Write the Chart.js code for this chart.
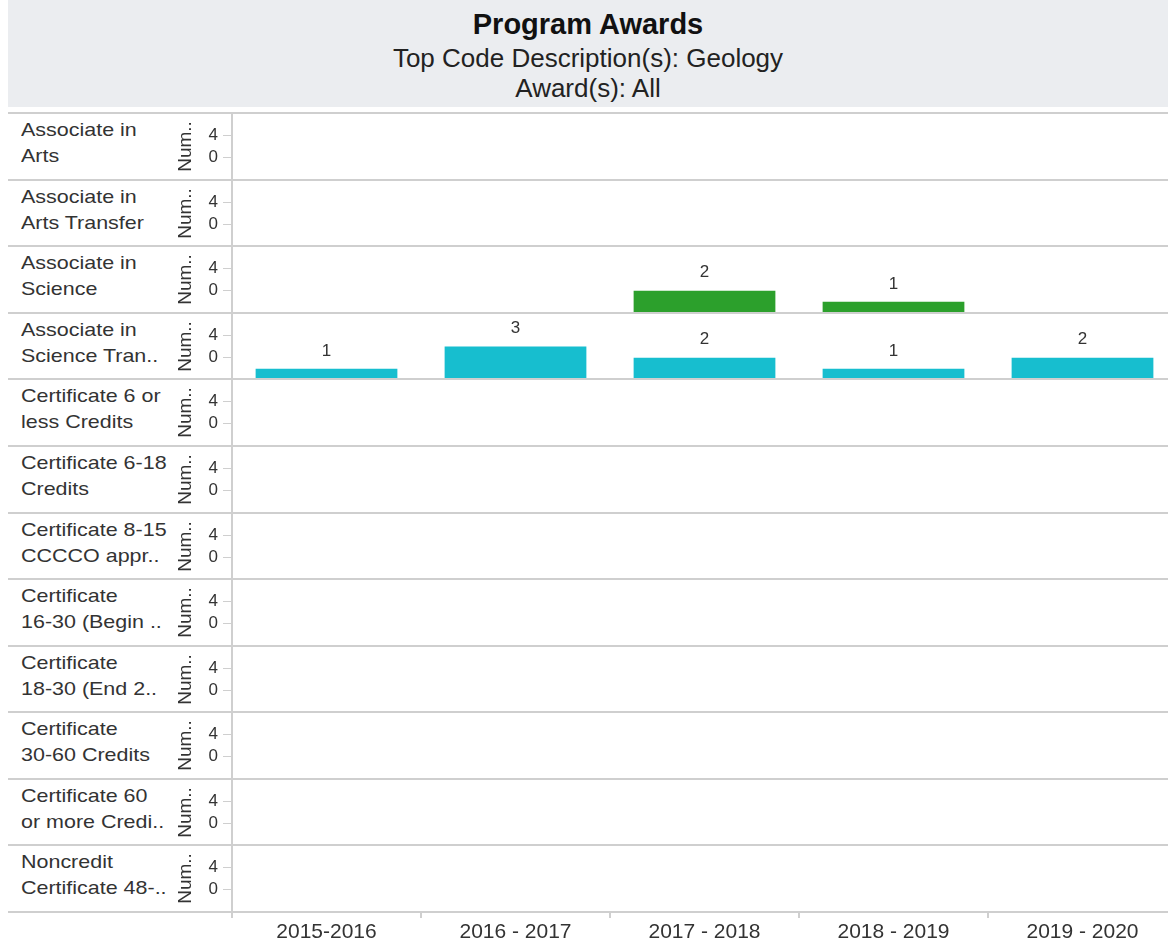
<!DOCTYPE html>
<html>
<head>
<meta charset="utf-8">
<script src="https://cdn.jsdelivr.net/npm/chart.js@4.4.1/dist/chart.umd.min.js"></script>
<style>
  html, body { margin: 0; padding: 0; background: #fff; width: 1168px; height: 945px; overflow: hidden; position: relative; font-family: "Liberation Sans", Arial, sans-serif; color: #333; }
  #header { position: absolute; left: 8px; top: 0; width: 1160px; height: 107px; background: #ebedf0; text-align: center; }
  #title { position: absolute; left: 0; right: 0; top: 7px; font-size: 29px; line-height: 34px; font-weight: bold; color: #111; }
  #sub1 { position: absolute; left: 0; right: 0; top: 43px; font-size: 26px; line-height: 30px; color: #222; }
  #sub2 { position: absolute; left: 0; right: 0; top: 73px; font-size: 26px; line-height: 30px; color: #222; }
  .rowlabel { position: absolute; left: 21px; font-size: 19px; line-height: 26px; color: #333; white-space: nowrap; transform: scaleX(1.13); transform-origin: 0 0; }
  .hline { position: absolute; left: 8px; width: 1160px; height: 2px; background: #cfcfcf; z-index: 5; }
  canvas { position: absolute; }
</style>
</head>
<body>
<div id="header">
  <div id="title">Program Awards</div>
  <div id="sub1">Top Code Description(s): Geology</div>
  <div id="sub2">Award(s): All</div>
</div>
<script>
// ---- data ----
const years = ['2015-2016', '2016 - 2017', '2017 - 2018', '2018 - 2019', '2019 - 2020'];
const awardLines1 = ['Associate in', 'Associate in', 'Associate in', 'Associate in', 'Certificate 6 or', 'Certificate 6-18', 'Certificate 8-15', 'Certificate', 'Certificate', 'Certificate', 'Certificate 60', 'Noncredit'];
const awardLines2 = ['Arts', 'Arts Transfer', 'Science', 'Science Tran..', 'less Credits', 'Credits', 'CCCCO appr..', '16-30 (Begin ..', '18-30 (End 2..', '30-60 Credits', 'or more Credi..', 'Certificate 48-..'];
const valuesAA    = [null, null, null, null, null];
const valuesAAT   = [null, null, null, null, null];
const valuesAS    = [null, null, 2, 1, null];
const valuesAST   = [1, 3, 2, 1, 2];
const valuesC6    = [null, null, null, null, null];
const valuesC618  = [null, null, null, null, null];
const valuesC815  = [null, null, null, null, null];
const valuesC1630 = [null, null, null, null, null];
const valuesC1830 = [null, null, null, null, null];
const valuesC3060 = [null, null, null, null, null];
const valuesC60   = [null, null, null, null, null];
const valuesNC48  = [null, null, null, null, null];
const rowValues = [valuesAA, valuesAAT, valuesAS, valuesAST, valuesC6, valuesC618, valuesC815, valuesC1630, valuesC1830, valuesC3060, valuesC60, valuesNC48];
const rowColors = ['#1f77b4', '#ff7f0e', '#2ca02c', '#17becf', '#d62728', '#9467bd', '#8c564b', '#e377c2', '#7f7f7f', '#bcbd22', '#aec7e8', '#ffbb78'];
const yTickValues = [2, 4];
const yTickLabels = ['0', '4'];
const yTitle = 'Num..';

// ---- layout ----
const FONT = '"Liberation Sans", Arial, sans-serif';
const top0 = 113, bottom0 = 912, nRows = 12;
const rowH = (bottom0 - top0) / nRows;
const canvasLeft = 160, canvasWidth = 1017, xAxisH = 33;

const valueLabels = {
  id: 'valueLabels',
  afterDatasetsDraw(chart) {
    const ctx = chart.ctx;
    ctx.save();
    ctx.font = '17px ' + FONT;
    ctx.fillStyle = '#333';
    ctx.textAlign = 'center';
    ctx.textBaseline = 'middle';
    chart.data.datasets.forEach((ds, di) => {
      chart.getDatasetMeta(di).data.forEach((bar, i) => {
        const v = ds.data[i];
        if (v !== null && v !== undefined) ctx.fillText(String(v), bar.x, bar.y - 18);
      });
    });
    ctx.restore();
  }
};

function noPad(s) { s.paddingTop = 0; s.paddingBottom = 0; s.paddingLeft = 0; s.paddingRight = 0; }

for (let r = 0; r <= nRows; r++) {
  const l = document.createElement('div');
  l.className = 'hline';
  l.style.top = Math.round(top0 + r * rowH - 1) + 'px';
  document.body.appendChild(l);
}

for (let r = 0; r < nRows; r++) {
  const rowTop = top0 + r * rowH;
  const lab = document.createElement('div');
  lab.className = 'rowlabel';
  lab.style.top = Math.round(rowTop + 4) + 'px';
  lab.innerHTML = awardLines1[r] + '<br>' + awardLines2[r];
  document.body.appendChild(lab);

  const last = r === nRows - 1;
  const h = Math.round(rowH + (last ? xAxisH : 0));
  const cv = document.createElement('canvas');
  cv.style.left = canvasLeft + 'px';
  cv.style.top = Math.round(rowTop) + 'px';
  cv.style.width = canvasWidth + 'px';
  cv.style.height = h + 'px';
  cv.width = canvasWidth; cv.height = h;
  document.body.appendChild(cv);

  const xScale = {
    display: last,
    afterFit(s) { noPad(s); if (last) s.height = xAxisH; },
    grid: { display: true, offset: true, drawOnChartArea: false, drawTicks: true, tickLength: 6, color: '#cfcfcf', lineWidth: 2 },
    border: { display: false },
    ticks: { color: '#333', font: { size: 21, family: FONT }, padding: 2, maxRotation: 0, autoSkip: false }
  };

  new Chart(cv, {
    type: 'bar',
    data: {
      labels: years,
      datasets: [{ data: rowValues[r], backgroundColor: rowColors[r], borderWidth: 0,
                   categoryPercentage: 1.0, barPercentage: 0.75 }]
    },
    options: {
      responsive: false, animation: false,
      layout: { padding: 0 },
      plugins: { legend: { display: false }, tooltip: { enabled: false } },
      scales: {
        x: xScale,
        y: {
          min: 0, max: 6,
          afterFit(s) { s.width = 72; noPad(s); },
          afterBuildTicks(s) { s.ticks = yTickValues.map(v => ({ value: v })); },
          grid: { display: true, drawOnChartArea: false, drawTicks: true, tickLength: 9, color: '#cfcfcf' },
          border: { display: true, color: '#cfcfcf', width: 2 },
          ticks: { color: '#333', font: { size: 17, family: FONT }, padding: 5,
                   callback: (v, i) => yTickLabels[i] },
          title: { display: true, text: yTitle, color: '#333', font: { size: 19, family: FONT }, padding: { top: 14, bottom: 0 } }
        }
      }
    },
    plugins: [valueLabels]
  });
}
</script>
</body>
</html>
